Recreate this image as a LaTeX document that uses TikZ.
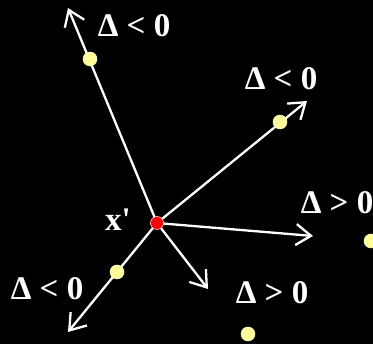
\documentclass[tikz,border=0pt]{standalone}
\usepackage{fontspec}
\setmainfont{Liberation Serif}
\usetikzlibrary{arrows.meta,backgrounds}
\definecolor{dotyellow}{HTML}{FFFF99}
\definecolor{dotred}{HTML}{FF0000}
\begin{document}
\begin{tikzpicture}[x={(1pt,0)},y={(0,-1pt)},
  ray/.style={draw=white,line width=2.3pt,-{Straight Barb[length=15pt,width=21pt,line width=2.3pt]}},
  ydot/.style={circle,fill=dotyellow,draw=dotyellow!60!white,line width=0.5pt,inner sep=0pt,minimum size=14pt},
  rdot/.style={circle,fill=dotred,draw=white!80!red,line width=0.6pt,inner sep=0pt,minimum size=13pt},
  lab/.style={text=white,font=\fontsize{33}{34}\selectfont\bfseries,inner sep=0pt}]
\useasboundingbox (0,0) rectangle (373,344);
\node[rdot] (c) at (157,223) {};
\node[ydot] (y1) at (90,59) {};
\node[ydot] (y2) at (280,122) {};
\node[ydot] (y3) at (117,272) {};
\node[ydot] (y4) at (371,241) {};
\node[ydot] (y5) at (248,334) {};
\coordinate (t1) at (68,8);
\coordinate (t2) at (307,101);
\coordinate (t3) at (313,236);
\coordinate (t4) at (208,289);
\coordinate (t5) at (68,332);
\begin{pgfonlayer}{background}
\fill[black] (0,0) rectangle (373,344);
\draw[ray] (c.center) -- (t1);
\draw[ray] (c.center) -- (t2);
\draw[ray] (c.center) -- (t3);
\draw[ray] (c.center) -- (t4);
\draw[ray] (c.center) -- (t5);
\end{pgfonlayer}
\node[lab] (l1) at (134,26) {Δ < 0};
\node[lab] (l2) at (281,79) {Δ < 0};
\node[lab] (l3) at (337,203) {Δ > 0};
\node[lab] (l4) at (272,293) {Δ > 0};
\node[lab] (l5) at (47,289) {Δ < 0};
\node[lab] (xp) at (118,220) {x\textquotesingle};
\end{tikzpicture}
\end{document}
